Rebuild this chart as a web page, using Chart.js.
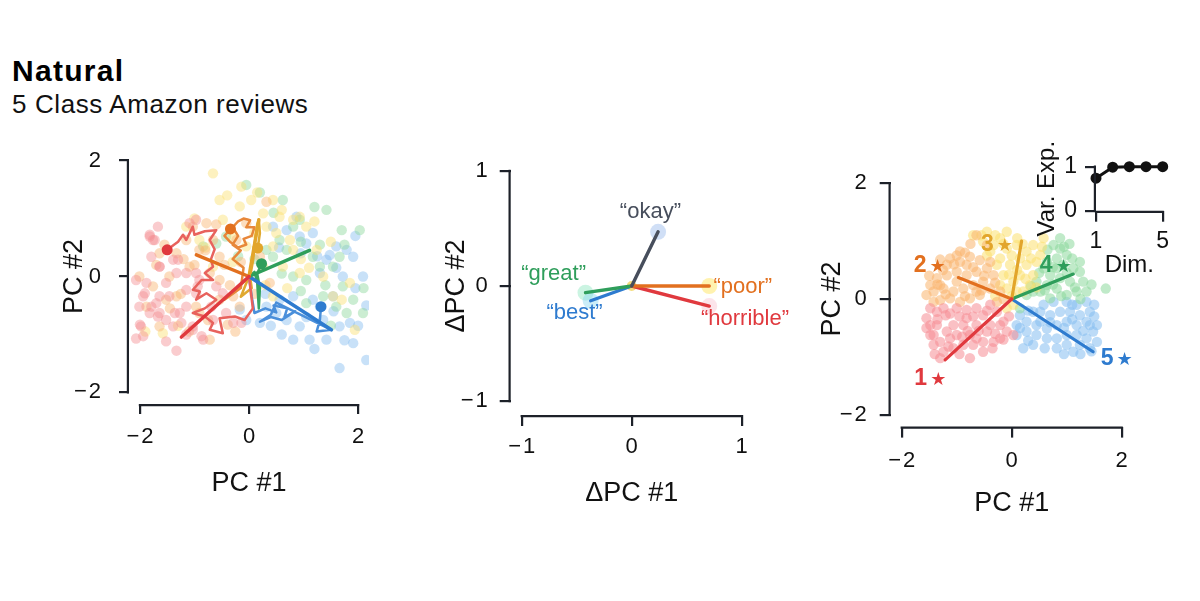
<!DOCTYPE html>
<html><head><meta charset="utf-8">
<script src="https://cdn.jsdelivr.net/npm/chart.js@4.4.1/dist/chart.umd.min.js"></script>
<style>
html,body{margin:0;padding:0;background:#fff;width:1200px;height:601px;overflow:hidden;font-family:'Liberation Sans',Arial,sans-serif;}
.t{position:absolute;left:12px;white-space:nowrap;color:#000;line-height:1;}
#title{top:55.5px;font-weight:bold;font-size:30px;letter-spacing:1.3px;}
#sub{top:90.7px;font-size:26px;letter-spacing:0.6px;color:#111;}
canvas{position:absolute;}
</style></head>
<body>
<div id="title" class="t">Natural</div>
<div id="sub" class="t">5 Class Amazon reviews</div>
<canvas id="c1" width="390" height="370" style="left:0px;top:130px;width:390px;height:370px"></canvas>
<canvas id="c2" width="400" height="380" style="left:400px;top:130px;width:400px;height:380px"></canvas>
<canvas id="c3" width="360" height="370" style="left:800px;top:150px;width:360px;height:370px"></canvas>
<canvas id="c4" width="160" height="150" style="left:1020px;top:130px;width:160px;height:150px;z-index:2"></canvas>
<script>
// ---------------- DATA ----------------
const classNames = ['1', '2', '3', '4', '5'];
const origin = [0, 0];

// Panel 1: hidden-state scatter per class (PC #1, PC #2)
const p1Pink = [[-2.07,-1.07],[-1.98,-0.86],[-1.82,-0.63],[-1.67,0.86],[-1.82,0.69],[-1.73,0.63],[-1.64,0.17],[-1.52,-0.11],[-1.94,-0.34],[-2.01,-0.52],[-1.70,-0.46],[-1.64,-0.63],[-1.52,-0.75],[-1.33,-1.28],[-1.39,-0.86],[-1.27,-0.63],[-1.15,-0.52],[-1.46,-0.34],[-1.03,-0.86],[-0.84,-1.09],[-0.97,-0.29],[-0.91,-0.06],[-0.60,-0.17],[-1.15,-0.23],[-1.33,0.06],[-1.39,0.29],[-0.66,-0.75],[-0.42,-0.63],[-0.29,-0.80],[-0.14,-0.80],[-1.88,-0.11],[-1.79,0.34],[-1.09,0.92],[-0.97,0.98],[-1.94,-1.03],[-1.15,-1.00],[-0.69,-0.52],[-0.48,-0.29],[-1.64,-0.34],[-2.07,-0.06],
  [-1.82,0.72],[-1.76,0.63],[-1.64,0.17],[-1.91,-0.29],[-1.79,-0.52],[-1.67,-0.69],[-2.00,-0.83],[-1.52,-1.12],[-1.36,-0.63],[-1.24,-0.80],[-1.03,-0.92],[-0.87,-1.03],[-0.94,-0.17],[-1.15,0.06],[-1.30,0.29],[-0.97,0.06]];
const p1Peach = [[-1.03,0.86],[-0.78,0.92],[-1.15,0.63],[-1.33,0.40],[-0.91,0.46],[-0.66,0.63],[-1.64,0.40],[-1.52,-0.40],[-1.88,-0.52],[-1.76,-0.17],[-1.33,-0.34],[-0.97,-0.52],[-0.54,-0.40],[-0.29,-0.34],[-0.17,-0.52],[-0.39,-0.83],[-0.72,-1.09],[0.32,1.29],[-1.46,0.00],[-2.01,0.00],[-1.09,0.17],[-0.72,0.06],[-0.54,-0.06],[-0.91,-0.63],[-1.64,-0.86],[-0.23,0.63],[0.20,0.34],[-0.05,0.92],[0.38,-0.11],[-0.54,0.34],
  [-1.55,0.55],[-1.20,0.30],[-1.00,0.20],[-0.80,0.45],[-0.45,0.20],[-0.35,-0.15],[-0.15,0.25],[-1.25,-0.30],[-1.45,-0.55],[-0.75,-0.75],[-0.25,-0.95],[-1.10,-0.95],[-1.70,0.20],[-0.60,0.90],[0.10,-0.30]];
const p1Yellow = [[-0.66,1.78],[-0.54,1.32],[-0.14,1.55],[0.04,1.32],[0.44,1.32],[0.81,0.98],[0.93,1.03],[1.05,0.86],[0.75,0.63],[0.44,0.52],[0.50,0.75],[0.26,1.09],[-0.48,0.98],[-0.29,0.69],[-0.05,0.52],[0.26,0.17],[0.62,0.17],[0.93,0.06],[1.36,0.00],[1.85,-0.11],[1.54,-0.34],[1.94,-0.92],[-1.58,-0.98],[-0.66,0.17],[0.44,-0.34],[-0.17,1.21],[0.32,0.86],[0.81,0.46],[1.24,0.46],[-1.15,0.86],[-0.91,0.63],[0.56,1.03],
  [-1.00,1.00],[-0.80,0.50],[-0.40,1.40],[0.15,1.45],[0.60,1.15],[1.20,0.95],[0.95,0.30],[1.10,0.15],[1.50,0.60],[0.30,-0.15],[-0.30,0.25],[-1.30,-0.85],[0.10,0.75],[1.70,-0.40],[-1.90,-0.95],[0.70,-0.20]];
const p1Green = [[-0.05,1.58],[0.62,1.32],[1.42,1.15],[2.03,0.80],[0.93,0.98],[0.81,0.86],[0.56,0.63],[0.32,0.46],[0.69,0.46],[1.17,0.34],[0.81,0.00],[1.05,-0.06],[1.30,0.17],[1.54,0.17],[1.72,-0.17],[1.60,-0.52],[1.79,-0.63],[2.09,-0.63],[1.91,-0.40],[1.36,-0.34],[1.05,-0.46],[1.66,0.34],[0.44,0.34],[-0.84,0.52],[-0.60,0.57],[-0.42,0.69],
  [0.20,1.45],[0.45,1.10],[1.20,1.20],[1.70,0.80],[0.95,0.60],[1.30,0.55],[0.60,0.05],[0.95,-0.25],[1.40,-0.15],[2.10,-0.20],[1.50,-0.85],[-0.20,0.35],[0.10,0.30],[1.75,0.55]];
const p1Blue = [[0.69,0.80],[0.93,0.69],[1.05,0.57],[1.17,0.75],[1.60,0.52],[1.79,0.46],[1.91,0.34],[1.48,0.37],[1.42,0.29],[1.30,0.06],[1.72,0.00],[2.09,0.00],[1.54,-0.34],[1.17,-0.40],[1.30,-0.52],[1.36,-0.75],[1.66,-0.86],[1.85,-0.80],[1.91,-1.15],[1.42,-1.09],[1.11,-1.09],[0.81,-1.09],[0.93,-0.86],[0.69,-0.75],[0.50,-0.63],[0.32,-0.52],[0.20,-0.80],[-0.05,-0.75],[-0.17,-0.57],[1.66,-1.58],[2.15,-1.44],[0.56,-0.40],[0.81,-0.34],[0.87,1.03],[0.44,0.86],
  [0.95,0.40],[1.25,0.35],[1.60,0.15],[1.95,-0.20],[2.15,-0.50],[1.05,-0.70],[1.55,-0.60],[0.40,-0.85],[0.60,-1.00],[1.20,-1.25],[1.75,-1.10],[2.00,-0.85],[0.30,-0.30],[1.95,0.70],[0.55,0.50]];

// Panel 1: example trajectories (one per class)
const p1TrajRed = [[0,0],[0.07,-0.55],[-0.08,-0.75],[-0.26,-0.69],[-0.54,-0.72],[-0.48,-0.98],[-0.72,-0.92],[-0.66,-0.80],[-0.81,-0.69],[-1.03,-0.63],[-0.81,-0.55],[-0.60,-0.40],[-0.78,-0.29],[-0.97,-0.40],[-0.90,-0.26],[-1.03,-0.23],[-0.87,-0.06],[-0.66,-0.06],[-0.81,0.06],[-0.66,0.17],[-0.70,0.29],[-0.63,0.47],[-0.72,0.63],[-0.60,0.80],[-0.81,0.78],[-1.00,0.72],[-1.03,0.86],[-1.15,0.63],[-1.21,0.72],[-1.30,0.60],[-1.50,0.46]];
const p1TrajOrange = [[0,0],[-0.25,-0.25],[-0.45,-0.40],[-0.15,-0.20],[-0.10,0.15],[-0.30,0.30],[-0.15,0.45],[-0.30,0.55],[-0.20,0.70],[-0.30,0.85],[-0.20,0.95],[-0.10,1.00],[0.02,0.97],[-0.05,0.85],[0.10,0.85],[0.05,0.70],[-0.10,0.65],[-0.05,0.55],[-0.20,0.50],[-0.35,0.60],[-0.45,0.70],[-0.34,0.82]];
const p1TrajGold = [[0,0],[-0.15,-0.35],[0.05,-0.20],[0.02,0.00],[0.08,0.30],[0.10,0.55],[0.15,0.90],[0.18,0.98],[0.20,0.75],[0.16,0.49]];
const p1TrajGreen = [[0,0],[0.10,0.08],[0.15,-0.10],[0.18,-0.55],[0.20,-0.20],[0.15,0.05],[0.23,0.22]];
const p1TrajBlue = [[0,0],[0.05,-0.35],[0.10,-0.63],[0.30,-0.55],[0.50,-0.62],[0.45,-0.50],[0.70,-0.55],[0.65,-0.70],[0.85,-0.60],[0.60,-0.75],[0.40,-0.70],[0.20,-0.78],[0.40,-0.66],[0.50,-0.45],[1.51,-0.92],[1.24,-0.95],[1.30,-0.75],[1.32,-0.52]];
const p1ReadoutEnds = [[-1.24,-1.045],[-0.965,0.374],[0.18,0.98],[1.11,0.45],[1.51,-0.92]];

// Panel 2: word-induced change in hidden state
const p2Words = ['\u201Cokay\u201D', '\u201Cpoor\u201D', '\u201Chorrible\u201D', '\u201Cgreat\u201D', '\u201Cbest\u201D'];
const p2Ends = [[0.24,0.47],[0.705,0.0],[0.705,-0.174],[-0.42,-0.058],[-0.373,-0.128]];
const p2LabelAt = [[0.17,0.59],[1.01,-0.06],[1.03,-0.34],[-0.71,0.05],[-0.52,-0.29]];

// Panel 3: final hidden states per class
const p3Pink = [[-1.48,-0.45],[-1.42,-0.62],[-1.55,-0.33],[-1.36,-0.22],[-1.24,-0.16],[-1.12,-0.25],[-1.00,-0.16],[-0.82,-0.19],[-0.64,-0.16],[-0.52,-0.28],[-0.39,-0.10],[-0.27,-0.22],[-0.15,-0.39],[-0.09,-0.56],[0.03,-0.62],[-0.21,-0.68],[-0.33,-0.74],[-0.45,-0.56],[-0.64,-0.45],[-0.76,-0.62],[-0.88,-0.45],[-1.06,-0.45],[-1.18,-0.56],[-1.30,-0.74],[-1.42,-0.79],[-1.24,-0.91],[-1.06,-0.85],[-0.88,-0.79],[-0.70,-0.79],[-0.52,-0.91],[-0.76,-1.02],[-0.64,-0.68],[-1.00,-0.62],[-0.39,-0.45],[-0.21,-0.45],[-1.48,-0.16],[-1.36,-0.45],[-1.12,-0.68],[-0.82,-0.33],[-0.52,-0.74],[-1.30,-1.02],[-1.48,-0.62],
  [-1.55,-0.50],[-1.35,-0.35],[-1.20,-0.28],[-0.95,-0.30],[-0.70,-0.30],[-0.45,-0.20],[-0.30,-0.60],[-0.60,-0.55],[-0.90,-0.65],[-1.15,-0.82],[-0.95,-0.95],[-0.35,-0.85],[-0.15,-0.70],[-1.40,-0.95],[-0.05,-0.30],[-0.80,-0.55]];
const p3Peach = [[-1.12,0.70],[-0.94,0.64],[-0.76,0.73],[-0.58,0.67],[-0.64,0.47],[-0.82,0.41],[-1.00,0.47],[-1.18,0.41],[-1.36,0.36],[-1.48,0.24],[-1.42,0.13],[-1.24,0.18],[-1.06,0.13],[-0.88,0.18],[-0.70,0.24],[-0.52,0.30],[-0.39,0.18],[-0.58,0.07],[-0.76,0.01],[-0.94,-0.05],[-1.12,0.01],[-1.30,-0.02],[-1.42,-0.05],[-0.45,0.53],[-0.33,0.41],[-0.82,0.59],[-1.18,0.59],[-1.30,0.24],[-0.64,0.13],[-1.55,0.07],[-1.00,0.30],[-0.39,0.64],[-0.21,0.13],[-0.27,-0.05],[-0.64,1.10],[-0.45,0.93],[-0.94,0.82],
  [-1.50,0.40],[-1.25,0.50],[-1.05,0.60],[-0.85,0.80],[-0.70,0.55],[-0.50,0.40],[-0.55,0.15],[-0.85,0.05],[-1.20,0.08],[-1.35,0.25],[-0.30,0.28],[-0.15,0.00],[-0.75,0.95],[-1.00,0.75],[-1.30,0.68]];
const p3Yellow = [[-0.70,1.10],[-0.45,1.16],[-0.21,1.05],[-0.09,0.87],[-0.21,0.70],[-0.03,0.59],[-0.15,0.41],[-0.27,0.59],[-0.39,0.82],[-0.52,0.99],[0.09,0.93],[0.27,0.82],[0.39,0.93],[0.52,0.76],[0.27,0.59],[0.15,0.41],[0.03,0.30],[-0.09,0.18],[-0.21,0.24],[0.09,0.13],[0.39,0.41],[0.33,0.24],[0.21,0.13],[0.03,-0.10],[-0.09,-0.16],[0.45,0.64],[-0.33,0.93],[0.15,0.70],[0.58,1.05],[-0.09,1.16],
  [-0.55,1.10],[-0.30,1.10],[-0.15,0.95],[0.00,0.75],[0.20,0.95],[0.35,0.70],[0.10,0.50],[-0.05,0.42],[0.25,0.35],[0.45,0.20],[0.00,0.05],[-0.30,0.05],[0.55,0.90],[0.10,1.05],[-0.45,0.75]];
const p3Green = [[0.76,0.93],[0.88,0.87],[1.00,0.76],[0.82,0.70],[0.64,0.64],[0.58,0.53],[0.70,0.41],[0.88,0.36],[1.06,0.30],[1.24,0.47],[1.30,0.30],[1.18,0.13],[1.00,0.07],[0.82,0.18],[0.64,0.24],[0.45,0.30],[0.52,0.13],[0.70,0.01],[1.36,0.13],[1.12,0.53],[0.94,0.59],[1.71,0.18],[0.82,0.53],[1.24,0.64],[0.39,0.13],[0.27,0.07],[0.15,-0.16],[0.88,1.05],
  [0.65,0.85],[0.95,0.90],[1.10,0.70],[0.75,0.55],[1.00,0.45],[1.15,0.20],[0.90,0.05],[0.60,0.15],[1.25,0.00],[1.45,0.25],[0.50,0.45],[0.35,0.22],[1.05,0.95],[0.75,0.25]];
const p3Blue = [[0.15,-0.28],[0.09,-0.45],[0.27,-0.39],[0.39,-0.22],[0.58,-0.10],[0.76,-0.05],[1.00,-0.05],[1.18,-0.10],[1.36,-0.05],[1.42,-0.22],[1.24,-0.28],[1.06,-0.22],[0.88,-0.22],[0.70,-0.28],[0.52,-0.39],[0.64,-0.51],[0.82,-0.45],[1.00,-0.39],[1.18,-0.45],[1.36,-0.39],[1.48,-0.56],[1.36,-0.68],[1.18,-0.62],[1.00,-0.62],[0.82,-0.68],[0.64,-0.68],[0.45,-0.62],[0.27,-0.56],[0.39,-0.79],[0.21,-0.85],[1.00,-0.79],[1.24,-0.79],[1.42,-0.85],[1.12,-0.91],[0.82,-0.85],[1.42,-0.45],[1.55,-0.74],[0.09,-0.62],[0.52,-0.22],
  [0.30,-0.20],[0.45,-0.45],[0.70,-0.40],[0.95,-0.50],[1.10,-0.35],[1.30,-0.55],[1.50,-0.30],[1.55,-0.45],[1.45,-0.90],[1.25,-0.95],[0.95,-0.95],[0.60,-0.85],[0.30,-0.72],[0.15,-0.50],[1.10,-0.10],[1.50,-0.10]];
const p3ReadoutEnds = [[-1.21,-1.05],[-0.97,0.37],[0.18,1.00],[1.12,0.43],[1.48,-0.91]];
const p3LabelAt = [[-1.48,-1.48],[-1.49,0.47],[-0.27,0.82],[0.80,0.47],[1.91,-1.14]];

// Inset: variance explained vs dimension
const insetDims = [1, 2, 3, 4, 5];
const insetVar = [0.74, 0.99, 1.0, 1.0, 1.0];

// Tick labels
const pcTicks = [-2, 0, 2];
const dpcTicks = [-1, 0, 1];
const insetXTicks = [1, 5];
const insetYTicks = [0, 1];

// ---------------- STYLE ----------------
const AXIS = '#1d2129';
const TXT = '#111';
const strong = ['#e0393e', '#e2701f', '#e2a52b', '#2f9e5b', '#2e7bcf'];
const trajCol = ['#e8625d', '#e8873a', '#e0a930', '#36a461', '#4a8fda'];
const pale = ['245,141,147', '249,180,110', '251,224,112', '140,216,156', '133,189,240'];
const wordCol = ['#474e5c', '#e2701f', '#e0393e', '#2f9e5b', '#2e7bcf'];
const glowCol = ['rgba(150,185,235,0.45)', 'rgba(255,232,110,0.55)', 'rgba(248,195,208,0.45)', 'rgba(140,230,190,0.45)', 'rgba(140,215,240,0.45)'];
const FONT = "'Liberation Sans', Arial, sans-serif";

Chart.defaults.font.family = FONT;
Chart.defaults.color = TXT;
Chart.defaults.animation = false;
Chart.defaults.plugins.legend.display = false;
Chart.defaults.plugins.tooltip.enabled = false;

const xy = arr => arr.map(p => ({x: p[0], y: p[1]}));
const fmt = v => (v < 0 ? '\u2212\u200A' + Math.abs(v) : String(v));

function spinePlugin(xt, yt, lw) {
  return {
    id: 'spines',
    afterDraw(chart) {
      const {ctx, chartArea: a, scales: {x, y}} = chart;
      ctx.save();
      ctx.strokeStyle = AXIS; ctx.lineWidth = lw; ctx.lineCap = 'square';
      ctx.beginPath();
      ctx.moveTo(a.left - lw / 2, y.getPixelForValue(yt[0]));
      ctx.lineTo(a.left - lw / 2, y.getPixelForValue(yt[yt.length - 1]));
      ctx.moveTo(x.getPixelForValue(xt[0]), a.bottom + lw / 2);
      ctx.lineTo(x.getPixelForValue(xt[xt.length - 1]), a.bottom + lw / 2);
      ctx.stroke();
      ctx.restore();
    }
  };
}

function axes(o) {
  return {
    x: {
      type: 'linear', min: o.xr[0], max: o.xr[1],
      afterBuildTicks: s => { s.ticks = o.xt.map(v => ({value: v})); },
      afterFit: s => { s.height = o.xh; s.paddingLeft = 0; s.paddingRight = 0; },
      grid: {drawOnChartArea: false, drawTicks: true, tickLength: o.tl, color: AXIS, lineWidth: o.lw},
      border: {display: false},
      ticks: {font: {size: o.tf}, color: TXT, padding: o.xpad, callback: fmt, maxRotation: 0, autoSkip: false},
      title: {display: true, text: o.xTitle, font: {size: o.lf}, color: TXT, padding: {top: o.xtp, bottom: 0}}
    },
    y: {
      type: 'linear', min: o.yr[0], max: o.yr[1],
      afterBuildTicks: s => { s.ticks = o.yt.map(v => ({value: v})); },
      afterFit: s => { s.width = o.yw; s.paddingTop = 0; s.paddingBottom = 0; },
      grid: {drawOnChartArea: false, drawTicks: true, tickLength: o.tl, color: AXIS, lineWidth: o.lw},
      border: {display: false},
      ticks: {font: {size: o.tf}, color: TXT, padding: o.ypad, callback: fmt, autoSkip: false},
      title: {display: true, text: o.yTitle, font: {size: o.lf}, color: TXT, padding: {top: o.ytp, bottom: 0}}
    }
  };
}

function cloud(arr, i, alpha, order) {
  return {data: xy(arr), backgroundColor: 'rgba(' + pale[i] + ',' + alpha + ')', pointRadius: 5.2, borderWidth: 0, pointHoverRadius: 5.2, order};
}
function path(arr, color, width, order) {
  return {data: xy(arr), showLine: true, borderColor: color, borderWidth: width, pointRadius: 0, pointHoverRadius: 0, tension: 0, order, borderJoinStyle: 'round', borderCapStyle: 'round'};
}

// ---------------- PANEL 1 ----------------
const p1Clouds = [p1Pink, p1Peach, p1Yellow, p1Green, p1Blue];
const p1Trajs = [p1TrajRed, p1TrajOrange, p1TrajGold, p1TrajGreen, p1TrajBlue];
const ds1 = [];
p1Clouds.forEach((c, i) => ds1.push(cloud(c, i, 0.45, 20)));
p1Trajs.forEach((t, i) => ds1.push(path(t, trajCol[i], 2.5, 10)));
p1ReadoutEnds.forEach((e, i) => ds1.push(path([origin, e], strong[i], 3.5, 5)));
ds1.push({data: xy(p1Trajs.map(t => t[t.length - 1])), backgroundColor: strong, pointRadius: 5.5, borderWidth: 0, order: 1});

new Chart(document.getElementById('c1'), {
  type: 'scatter',
  data: {datasets: ds1},
  options: {
    responsive: false, devicePixelRatio: 1,
    layout: {padding: {left: 0, top: 19, right: 21, bottom: 0}},
    scales: axes({xr: [-2.2, 2.2], yr: [-2.2, 2.2], xt: pcTicks, yt: pcTicks, xh: 96, yw: 129, tl: 10, lw: 2.2,
      tf: 22, lf: 27, xpad: 10, ypad: 18, xTitle: 'PC #1', yTitle: 'PC #2', xtp: 20, ytp: 58.8})
  },
  plugins: [spinePlugin(pcTicks, pcTicks, 2.2)]
});

// ---------------- PANEL 2 ----------------
const ds2 = [];
ds2.push({data: xy(p2Ends), backgroundColor: glowCol, pointRadius: 8, borderWidth: 0, order: 20});
ds2.push({data: xy([origin]), backgroundColor: 'rgba(240,205,70,0.7)', pointRadius: 5, borderWidth: 0, order: 19});
p2Ends.forEach((e, i) => ds2.push(path([origin, e], wordCol[i], 3.4, 5)));

const wordPlugin = {
  id: 'words',
  afterDatasetsDraw(chart) {
    const {ctx, scales: {x, y}} = chart;
    ctx.save();
    ctx.font = '22px ' + FONT;
    ctx.textAlign = 'center'; ctx.textBaseline = 'alphabetic';
    p2Words.forEach((w, i) => {
      ctx.fillStyle = wordCol[i];
      ctx.fillText(w, x.getPixelForValue(p2LabelAt[i][0]), y.getPixelForValue(p2LabelAt[i][1]));
    });
    ctx.restore();
  }
};

new Chart(document.getElementById('c2'), {
  type: 'scatter',
  data: {datasets: ds2},
  options: {
    responsive: false, devicePixelRatio: 1,
    layout: {padding: {left: 0, top: 27, right: 47.3, bottom: 0}},
    scales: axes({xr: [-1.1, 1.1], yr: [-1.12, 1.12], xt: dpcTicks, yt: dpcTicks, xh: 95, yw: 110.7, tl: 11, lw: 2.2,
      tf: 22, lf: 27, xpad: 8, ypad: 12, xTitle: '\u0394PC #1', yTitle: '\u0394PC #2', xtp: 13, ytp: 40.8})
  },
  plugins: [spinePlugin(dpcTicks, dpcTicks, 2.2), wordPlugin]
});

// ---------------- PANEL 3 ----------------
const p3Clouds = [p3Pink, p3Peach, p3Yellow, p3Green, p3Blue];
const ds3 = [];
p3Clouds.forEach((c, i) => ds3.push(cloud(c, i, 0.55, 20)));
p3ReadoutEnds.forEach((e, i) => ds3.push(path([origin, e], strong[i], 3.2, 5)));

const starPlugin = {
  id: 'stars',
  afterDatasetsDraw(chart) {
    const {ctx, scales: {x, y}} = chart;
    ctx.save();
    ctx.textBaseline = 'alphabetic'; ctx.textAlign = 'left';
    const F1 = 'bold 23px ' + FONT, F2 = '18px "DejaVu Sans", sans-serif';
    classNames.forEach((n, i) => {
      const cx = x.getPixelForValue(p3LabelAt[i][0]);
      const by = y.getPixelForValue(p3LabelAt[i][1]);
      ctx.font = F1; const w1 = ctx.measureText(n).width;
      ctx.font = F2; const w2 = ctx.measureText('\u2605').width;
      const gap = 3;
      const left = cx - (w1 + gap + w2) / 2;
      ctx.fillStyle = strong[i];
      ctx.font = F1; ctx.fillText(n, left, by);
      ctx.font = F2; ctx.fillText('\u2605', left + w1 + gap, by);
    });
    ctx.restore();
  }
};

new Chart(document.getElementById('c3'), {
  type: 'scatter',
  data: {datasets: ds3},
  options: {
    responsive: false, devicePixelRatio: 1,
    layout: {padding: {left: 0, top: 21.4, right: 27.3, bottom: 0}},
    scales: axes({xr: [-2.2, 2.2], yr: [-2.2, 2.2], xt: pcTicks, yt: pcTicks, xh: 93.4, yw: 90.7, tl: 11, lw: 2.2,
      tf: 22, lf: 27, xpad: 10, ypad: 13, xTitle: 'PC #1', yTitle: 'PC #2', xtp: 8, ytp: 16.8})
  },
  plugins: [spinePlugin(pcTicks, pcTicks, 2.2), starPlugin]
});

// ---------------- INSET ----------------
new Chart(document.getElementById('c4'), {
  type: 'scatter',
  data: {datasets: [{
    data: insetDims.map((d, i) => ({x: d, y: insetVar[i]})),
    showLine: true, borderColor: '#111', backgroundColor: '#111', pointRadius: 4, borderWidth: 3, clip: false
  }]},
  options: {
    responsive: false, devicePixelRatio: 1,
    layout: {padding: {left: 0, top: 36.7, right: 17.3, bottom: 0}},
    scales: axes({xr: [1, 5], yr: [0, 1], xt: insetXTicks, yt: insetYTicks, xh: 69.3, yw: 76, tl: 11, lw: 2.2,
      tf: 23, lf: 24, xpad: 6, ypad: 8, xTitle: 'Dim.', yTitle: 'Var. Exp.', xtp: 2.6, ytp: 12.6})
  },
  plugins: [spinePlugin(insetXTicks, insetYTicks, 2.2)]
});
</script>
</body></html>
